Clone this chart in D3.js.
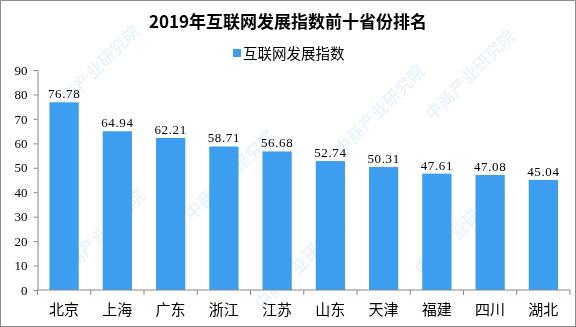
<!DOCTYPE html>
<html><head><meta charset="utf-8">
<script src="https://cdn.jsdelivr.net/npm/d3@7"></script>
<style>
html,body{margin:0;padding:0;background:#fff;}
svg{display:block;}
</style></head>
<body>
<svg id="chart" width="576" height="327"></svg>
<script>
// Top ten provinces by internet development index, 2019
const provinces = ["北京","上海","广东","浙江","江苏","山东","天津","福建","四川","湖北"];
const indexValues = [76.78, 64.94, 62.21, 58.71, 56.68, 52.74, 50.31, 47.61, 47.08, 45.04];
const yTicks = [0,10,20,30,40,50,60,70,80,90];
const titleText = "2019年互联网发展指数前十省份排名";
const seriesName = "互联网发展指数";

const W = 576, H = 327;
const svg = d3.select("#chart");
const serif = "'Liberation Serif','DejaVu Serif','Noto Sans CJK SC',serif";
const cjk = "'Noto Sans CJK SC','Liberation Serif',serif";
const barColor = "#3d9ef0";

svg.append("rect").attr("x",0.5).attr("y",0.5).attr("width",W-1).attr("height",H-1)
  .attr("fill","#fff").attr("stroke","#8c8c8c").attr("stroke-width",1);

// faint diagonal watermark
const wm = svg.append("g").attr("fill","#b9d7ee").attr("opacity",0.28)
  .attr("font-family",cjk).attr("font-size",17).attr("font-weight","bold");
[[95,70],[470,75],[230,175],[380,110],[100,235],[460,230],[300,265]].forEach(([x,y])=>{
  wm.append("text").attr("transform",`translate(${x},${y}) rotate(-45)`)
    .attr("text-anchor","middle").attr("dy","0.35em").text("中商产业研究院");
});

const margin = {left:37.5, right:6, top:70, bottom:37};
const x = d3.scaleBand().domain(provinces).range([margin.left, W-margin.right]).paddingInner(0.45).paddingOuter(0.225);
const y = d3.scaleLinear().domain([0,90]).range([H-margin.bottom, margin.top]);

// title
svg.append("text").attr("x",288).attr("y",28).attr("text-anchor","middle")
  .attr("font-family",cjk).attr("font-weight","bold").attr("font-size",17).attr("fill","#000")
  .text(titleText);

// legend
svg.append("rect").attr("x",233).attr("y",49).attr("width",8).attr("height",8).attr("fill",barColor);
svg.append("text").attr("x",243).attr("y",58.5).attr("font-family",cjk).attr("font-size",14.5).attr("fill","#000")
  .text(seriesName);

// bars
svg.append("g").selectAll("rect").data(provinces).join("rect")
  .attr("x",d=>x(d)).attr("width",x.bandwidth())
  .attr("y",(d,i)=>y(indexValues[i])).attr("height",(d,i)=>y(0)-y(indexValues[i]))
  .attr("fill",barColor);

// value labels
svg.append("g").selectAll("text").data(provinces).join("text")
  .attr("x",d=>x(d)+x.bandwidth()/2).attr("y",(d,i)=>y(indexValues[i])-4)
  .attr("text-anchor","middle").attr("font-family",serif).attr("font-size",13)
  .attr("letter-spacing",0.6).attr("fill","#000")
  .text((d,i)=>indexValues[i].toFixed(2));

// y axis
const yAxis = svg.append("g").attr("transform",`translate(${margin.left},0)`)
  .call(d3.axisLeft(y).tickValues(yTicks).tickSize(4).tickPadding(6));
yAxis.select(".domain").attr("stroke","#888");
yAxis.selectAll(".tick line").attr("stroke","#888");
yAxis.selectAll("text").attr("font-family",serif).attr("font-size",13).attr("fill","#000");

// x axis with ticks at category boundaries
const xg = svg.append("g").attr("transform",`translate(0,${y(0)})`);
xg.append("line").attr("x1",margin.left).attr("x2",W-margin.right).attr("stroke","#888");
const step = x.step();
const start = x(provinces[0]) - x.paddingOuter()*step;
d3.range(provinces.length+1).forEach(i=>{
  const b = start + i*step;
  xg.append("line").attr("x1",b).attr("x2",b).attr("y1",0).attr("y2",5).attr("stroke","#888");
});
xg.selectAll("text.cat").data(provinces).join("text").attr("class","cat")
  .attr("x",d=>x(d)+x.bandwidth()/2).attr("y",25).attr("text-anchor","middle")
  .attr("font-family",cjk).attr("font-size",15).attr("fill","#000").text(d=>d);
</script>
</body></html>
